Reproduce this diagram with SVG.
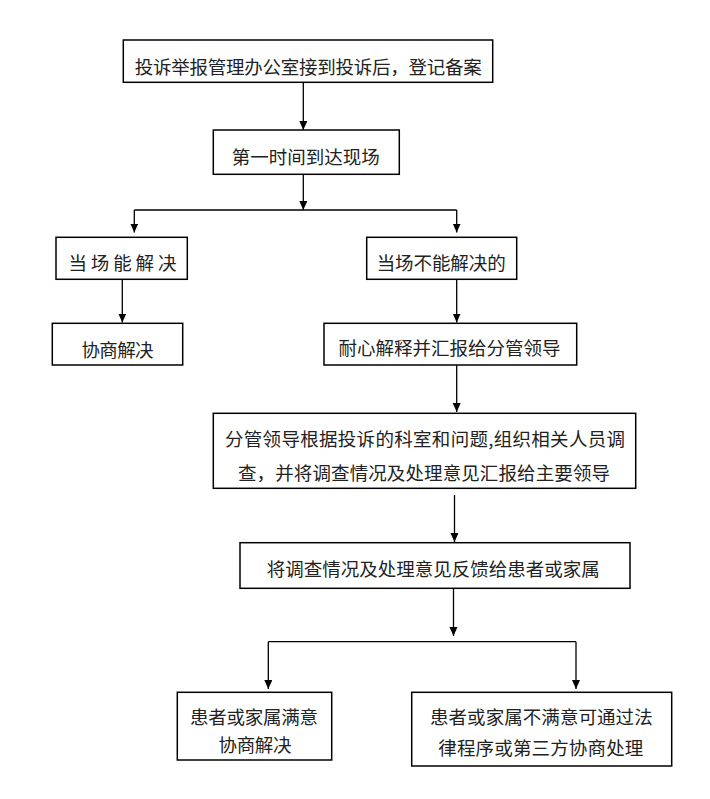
<svg xmlns="http://www.w3.org/2000/svg" width="710" height="799" viewBox="0 0 710 799">
<style>
.box{fill:#fff;stroke:#000;stroke-width:1.5}
.t{font-family:"Noto Sans CJK SC","Liberation Serif",serif;font-size:18.5px;fill:#222;text-anchor:middle}
.c{fill:none;stroke:#000;stroke-width:1.3}
</style>
<defs>
<marker id="ah" markerUnits="userSpaceOnUse" markerWidth="9" markerHeight="9" refX="9" refY="4" orient="auto">
<path d="M0,0 L9,4 L0,8 z" fill="#000"/>
</marker>
</defs>
<rect width="710" height="799" fill="#fff"/>
<g id="connectors">
<path class="c" d="M303.3 82.3 V130" marker-end="url(#ah)"/>
<path class="c" d="M303.3 174.3 V210" marker-end="url(#ah)"/>
<path class="c" d="M134.3 210 H456.7"/>
<path class="c" d="M134.3 210 V232.5" marker-end="url(#ah)"/>
<path class="c" d="M456.7 210 V232.5" marker-end="url(#ah)"/>
<path class="c" d="M122.3 279.3 V322.5" marker-end="url(#ah)"/>
<path class="c" d="M456.7 279.3 V322.5" marker-end="url(#ah)"/>
<path class="c" d="M456.7 365 V412" marker-end="url(#ah)"/>
<path class="c" d="M454.5 495 V542" marker-end="url(#ah)"/>
<path class="c" d="M453.5 588.3 V636" marker-end="url(#ah)"/>
<path class="c" d="M268.3 641.7 H576"/>
<path class="c" d="M268.3 641.7 V689" marker-end="url(#ah)"/>
<path class="c" d="M576 641.7 V689" marker-end="url(#ah)"/>
</g>
<g id="n1"><rect class="box" x="123.3" y="40" width="369.4" height="42.3"/><text class="t" x="308.3" y="73.7" textLength="347" lengthAdjust="spacing">投诉举报管理办公室接到投诉后，登记备案</text></g>
<g id="n2"><rect class="box" x="213.3" y="130" width="186" height="44.3"/><text class="t" x="305.8" y="163.7" textLength="148" lengthAdjust="spacing">第一时间到达现场</text></g>
<g id="n3"><rect class="box" x="56" y="237.3" width="131.3" height="42"/><text class="t" x="122.5" y="270.3" textLength="108" lengthAdjust="spacing">当 场 能 解 决</text></g>
<g id="n4"><rect class="box" x="366.7" y="237.3" width="150" height="42"/><text class="t" x="441.2" y="270.3" textLength="129" lengthAdjust="spacing">当场不能解决的</text></g>
<g id="n5"><rect class="box" x="52.3" y="323.3" width="130.4" height="41.7"/><text class="t" x="117.5" y="357" textLength="72" lengthAdjust="spacing">协商解决</text></g>
<g id="n6"><rect class="box" x="324" y="323.3" width="252.7" height="41.7"/><text class="t" x="449.5" y="355.3" textLength="222" lengthAdjust="spacing">耐心解释并汇报给分管领导</text></g>
<g id="n7"><rect class="box" x="213.3" y="413.3" width="422.4" height="75"/><text class="t" x="425" y="446" textLength="400" lengthAdjust="spacing">分管领导根据投诉的科室和问题,组织相关人员调</text><text class="t" x="424" y="479.5" textLength="372" lengthAdjust="spacing">查，并将调查情况及处理意见汇报给主要领导</text></g>
<g id="n8"><rect class="box" x="240" y="542.7" width="390" height="45.6"/><text class="t" x="433.3" y="576" textLength="333" lengthAdjust="spacing">将调查情况及处理意见反馈给患者或家属</text></g>
<g id="n9"><rect class="box" x="177.3" y="692.3" width="154.4" height="67.7"/><text class="t" x="254" y="723.5" textLength="128" lengthAdjust="spacing">患者或家属满意</text><text class="t" x="255" y="752" textLength="73" lengthAdjust="spacing">协商解决</text></g>
<g id="n10"><rect class="box" x="411.7" y="692.3" width="260" height="73.7"/><text class="t" x="541.3" y="723.5" textLength="222.7" lengthAdjust="spacing">患者或家属不满意可通过法</text><text class="t" x="540.8" y="755" textLength="205" lengthAdjust="spacing">律程序或第三方协商处理</text></g>
</svg>
